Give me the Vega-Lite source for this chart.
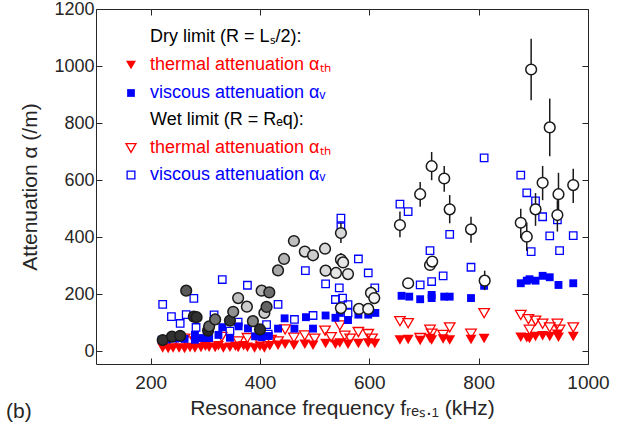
{
  "$schema": "https://vega.github.io/schema/vega-lite/v6.json",
  "width": 492,
  "height": 355,
  "autosize": {"type": "none"},
  "padding": {"left": 96, "top": 9, "right": 38, "bottom": 76},
  "background": "white",
  "config": {
    "font": "Liberation Sans",
    "view": {"stroke": null},
    "axis": {
      "grid": false,
      "domainColor": "#262626",
      "tickColor": "#262626",
      "labelColor": "#262626",
      "titleColor": "#262626",
      "labelFont": "Liberation Sans",
      "titleFont": "Liberation Sans",
      "labelFontSize": 19,
      "titleFontSize": 21,
      "titleFontWeight": "normal",
      "tickSize": -6,
      "domainWidth": 1,
      "tickWidth": 1,
      "labelFlush": false,
      "format": "d"
    },
    "legend": {
      "labelFont": "Liberation Sans",
      "titleFont": "Liberation Sans",
      "labelFontSize": 18,
      "labelLimit": 0,
      "padding": 0,
      "labelOffset": 10,
      "symbolSize": 100,
      "symbolStrokeWidth": 1.3,
      "orient": "none",
      "legendX": 26
    }
  },
  "title": {
    "text": "(b)",
    "orient": "bottom",
    "anchor": "start",
    "frame": "bounds",
    "fontSize": 21,
    "fontWeight": "normal",
    "font": "Liberation Sans",
    "color": "#262626",
    "offset": -17,
    "dx": -14
  },
  "datasets": {
    "meas": [
      {"f": 222, "a": 40, "g": 0.1},
      {"f": 239, "a": 52, "g": 0.1},
      {"f": 254, "a": 55, "g": 0.1},
      {"f": 265, "a": 213, "g": 0.3},
      {"f": 279, "a": 122, "g": 0.1},
      {"f": 284, "a": 120, "g": 0.1},
      {"f": 305, "a": 73, "g": 0.05},
      {"f": 307, "a": 88, "g": 0.35},
      {"f": 318, "a": 112, "g": 0.4},
      {"f": 345, "a": 108, "g": 0.15},
      {"f": 351, "a": 139, "g": 0.55},
      {"f": 360, "a": 187, "g": 0.75},
      {"f": 376, "a": 157, "g": 0.8},
      {"f": 387, "a": 106, "g": 0.5},
      {"f": 400, "a": 77, "g": 0.1},
      {"f": 403, "a": 213, "g": 0.7},
      {"f": 408, "a": 135, "g": 0.8},
      {"f": 412, "a": 156, "g": 0.35},
      {"f": 417, "a": 207, "g": 0.4},
      {"f": 433, "a": 284, "g": 0.65},
      {"f": 444, "a": 324, "g": 0.7},
      {"f": 462, "a": 387, "g": 0.75},
      {"f": 482, "a": 350, "g": 0.85},
      {"f": 497, "a": 337, "g": 0.8},
      {"f": 519, "a": 360, "g": 0.85},
      {"f": 520, "a": 283, "g": 0.85},
      {"f": 539, "a": 275, "g": 0.9},
      {"f": 548, "a": 322, "g": 0.9, "lo": 300, "hi": 345},
      {"f": 552, "a": 312, "g": 0.9},
      {"f": 561, "a": 271, "g": 0.9},
      {"f": 548, "a": 415, "g": 0.85, "lo": 380, "hi": 450},
      {"f": 548, "a": 152, "g": 0.95},
      {"f": 581, "a": 149, "g": 0.95},
      {"f": 598, "a": 149, "g": 0.95},
      {"f": 603, "a": 205, "g": 0.95, "lo": 185, "hi": 228},
      {"f": 609, "a": 187, "g": 0.95, "lo": 170, "hi": 205},
      {"f": 656, "a": 443, "g": 1, "lo": 400, "hi": 490},
      {"f": 671, "a": 239, "g": 1},
      {"f": 693, "a": 551, "g": 1, "lo": 507, "hi": 594},
      {"f": 711, "a": 303, "g": 1},
      {"f": 715, "a": 315, "g": 1},
      {"f": 714, "a": 649, "g": 1, "lo": 600, "hi": 699},
      {"f": 737, "a": 606, "g": 1, "lo": 560, "hi": 650},
      {"f": 747, "a": 498, "g": 1, "lo": 449, "hi": 548},
      {"f": 786, "a": 428, "g": 1, "lo": 381, "hi": 472},
      {"f": 811, "a": 248, "g": 1, "lo": 215, "hi": 283},
      {"f": 877, "a": 451, "g": 1, "lo": 397, "hi": 500},
      {"f": 888, "a": 402, "g": 1, "lo": 352, "hi": 452},
      {"f": 896, "a": 988, "g": 1, "lo": 880, "hi": 1096},
      {"f": 904, "a": 498, "g": 1, "lo": 440, "hi": 555},
      {"f": 917, "a": 591, "g": 1, "lo": 530, "hi": 650},
      {"f": 930, "a": 785, "g": 1, "lo": 684, "hi": 886},
      {"f": 944, "a": 478, "g": 1, "lo": 420, "hi": 530},
      {"f": 946, "a": 551, "g": 1, "lo": 490, "hi": 626},
      {"f": 973, "a": 583, "g": 1, "lo": 520, "hi": 640}
    ],
    "dryTh": [
      {"f": 222, "a": 12}, {"f": 232, "a": 10}, {"f": 241, "a": 12}, {"f": 252, "a": 12},
      {"f": 262, "a": 10}, {"f": 272, "a": 14}, {"f": 281, "a": 12}, {"f": 292, "a": 14},
      {"f": 300, "a": 18}, {"f": 307, "a": 15}, {"f": 318, "a": 14}, {"f": 324, "a": 20},
      {"f": 333, "a": 12}, {"f": 345, "a": 15}, {"f": 355, "a": 18}, {"f": 360, "a": 14},
      {"f": 370, "a": 20}, {"f": 377, "a": 15}, {"f": 390, "a": 12}, {"f": 400, "a": 18},
      {"f": 408, "a": 12}, {"f": 418, "a": 20}, {"f": 433, "a": 22}, {"f": 446, "a": 25},
      {"f": 462, "a": 22}, {"f": 482, "a": 25}, {"f": 497, "a": 22}, {"f": 520, "a": 28},
      {"f": 538, "a": 25}, {"f": 546, "a": 30}, {"f": 561, "a": 25}, {"f": 580, "a": 28},
      {"f": 598, "a": 30}, {"f": 610, "a": 28}, {"f": 656, "a": 40}, {"f": 671, "a": 42},
      {"f": 693, "a": 38}, {"f": 711, "a": 45}, {"f": 714, "a": 40}, {"f": 735, "a": 44},
      {"f": 747, "a": 40}, {"f": 786, "a": 42}, {"f": 810, "a": 45}, {"f": 877, "a": 50},
      {"f": 888, "a": 48}, {"f": 893, "a": 45}, {"f": 904, "a": 52}, {"f": 917, "a": 55},
      {"f": 930, "a": 52}, {"f": 944, "a": 60}, {"f": 946, "a": 50}, {"f": 973, "a": 52}
    ],
    "dryVi": [
      {"f": 220, "a": 41}, {"f": 230, "a": 42}, {"f": 238, "a": 47}, {"f": 245, "a": 45},
      {"f": 252, "a": 47}, {"f": 262, "a": 44}, {"f": 281, "a": 58}, {"f": 281, "a": 41},
      {"f": 295, "a": 47}, {"f": 307, "a": 47}, {"f": 307, "a": 82}, {"f": 324, "a": 58},
      {"f": 331, "a": 85}, {"f": 345, "a": 48}, {"f": 361, "a": 88}, {"f": 378, "a": 81},
      {"f": 391, "a": 53}, {"f": 399, "a": 71}, {"f": 403, "a": 50}, {"f": 416, "a": 54},
      {"f": 433, "a": 80}, {"f": 445, "a": 116}, {"f": 463, "a": 80}, {"f": 484, "a": 120},
      {"f": 497, "a": 80}, {"f": 520, "a": 126}, {"f": 538, "a": 118}, {"f": 546, "a": 135},
      {"f": 561, "a": 110}, {"f": 580, "a": 129}, {"f": 598, "a": 129}, {"f": 611, "a": 135},
      {"f": 659, "a": 195}, {"f": 673, "a": 192}, {"f": 693, "a": 183}, {"f": 714, "a": 198},
      {"f": 714, "a": 187}, {"f": 737, "a": 192}, {"f": 747, "a": 192}, {"f": 786, "a": 187},
      {"f": 810, "a": 230}, {"f": 877, "a": 239}, {"f": 888, "a": 248}, {"f": 893, "a": 253},
      {"f": 904, "a": 248}, {"f": 917, "a": 265}, {"f": 930, "a": 260}, {"f": 946, "a": 233},
      {"f": 973, "a": 239}
    ],
    "wetTh": [
      {"f": 240, "a": 25}, {"f": 262, "a": 45}, {"f": 281, "a": 35}, {"f": 300, "a": 40},
      {"f": 330, "a": 51}, {"f": 360, "a": 35}, {"f": 377, "a": 47}, {"f": 400, "a": 30},
      {"f": 420, "a": 40}, {"f": 433, "a": 35}, {"f": 446, "a": 77}, {"f": 462, "a": 48},
      {"f": 482, "a": 56}, {"f": 500, "a": 45}, {"f": 519, "a": 73}, {"f": 530, "a": 50},
      {"f": 546, "a": 91}, {"f": 555, "a": 55}, {"f": 565, "a": 45}, {"f": 580, "a": 68},
      {"f": 598, "a": 61}, {"f": 605, "a": 45}, {"f": 656, "a": 106}, {"f": 671, "a": 99},
      {"f": 693, "a": 47}, {"f": 711, "a": 76}, {"f": 714, "a": 62}, {"f": 735, "a": 58},
      {"f": 747, "a": 84}, {"f": 786, "a": 62}, {"f": 810, "a": 134}, {"f": 877, "a": 128},
      {"f": 891, "a": 113}, {"f": 893, "a": 76}, {"f": 904, "a": 108}, {"f": 917, "a": 97},
      {"f": 930, "a": 84}, {"f": 944, "a": 97}, {"f": 948, "a": 76}, {"f": 973, "a": 84}
    ],
    "wetVi": [
      {"f": 222, "a": 165}, {"f": 238, "a": 122}, {"f": 254, "a": 98}, {"f": 265, "a": 129},
      {"f": 279, "a": 186}, {"f": 283, "a": 84}, {"f": 316, "a": 128}, {"f": 331, "a": 252},
      {"f": 345, "a": 71}, {"f": 360, "a": 103}, {"f": 377, "a": 232}, {"f": 412, "a": 94},
      {"f": 415, "a": 61}, {"f": 433, "a": 165}, {"f": 463, "a": 112}, {"f": 483, "a": 283},
      {"f": 497, "a": 126}, {"f": 520, "a": 237}, {"f": 538, "a": 182}, {"f": 545, "a": 223},
      {"f": 551, "a": 187}, {"f": 548, "a": 467}, {"f": 548, "a": 437}, {"f": 561, "a": 164},
      {"f": 561, "a": 135}, {"f": 580, "a": 324}, {"f": 598, "a": 275}, {"f": 610, "a": 223},
      {"f": 656, "a": 516}, {"f": 671, "a": 490}, {"f": 693, "a": 233}, {"f": 711, "a": 353},
      {"f": 714, "a": 245}, {"f": 735, "a": 265}, {"f": 747, "a": 410}, {"f": 786, "a": 295},
      {"f": 810, "a": 678}, {"f": 877, "a": 618}, {"f": 888, "a": 556}, {"f": 896, "a": 350},
      {"f": 904, "a": 528}, {"f": 917, "a": 472}, {"f": 930, "a": 405}, {"f": 944, "a": 461},
      {"f": 948, "a": 353}, {"f": 973, "a": 406}
    ]
  },
  "layer": [
    {
      "data": {"name": "wetTh"},
      "mark": {"type": "point", "filled": false, "strokeWidth": 1.3, "size": 110, "opacity": 1},
      "encoding": {
        "x": {"field": "f", "type": "quantitative", "scale": {"domain": [100, 1000], "nice": false}, "axis": null},
        "y": {"field": "a", "type": "quantitative", "scale": {"domain": [-44, 1200], "nice": false, "zero": false}, "axis": null},
        "color": {"datum": "thermal attenuation αₜₕ", "type": "nominal", "scale": {"range": ["#ff0000"]},
          "legend": {"title": null, "legendY": 130, "labelColor": "#ff0000", "symbolType": "triangle-down"}},
        "shape": {"datum": "Wet limit (R = Rₑq):", "type": "nominal", "scale": {"range": ["triangle-down"]},
          "legend": {"title": null, "legendY": 102, "labelColor": "black", "symbolOpacity": 0}}
      }
    },
    {
      "data": {"name": "wetVi"},
      "mark": {"type": "point", "shape": "square", "filled": false, "strokeWidth": 1.3, "size": 56, "opacity": 1},
      "encoding": {
        "x": {"field": "f", "type": "quantitative", "axis": null},
        "y": {"field": "a", "type": "quantitative", "axis": null},
        "color": {"datum": "viscous attenuation αᵥ", "type": "nominal", "scale": {"range": ["#0000ff"]},
          "legend": {"title": null, "legendY": 157, "labelColor": "#0000ff", "symbolType": "square", "symbolSize": 60}}
      }
    },
    {
      "data": {"name": "dryTh"},
      "mark": {"type": "point", "filled": true, "size": 120, "opacity": 1},
      "encoding": {
        "x": {"field": "f", "type": "quantitative", "axis": null},
        "y": {"field": "a", "type": "quantitative", "axis": null},
        "color": {"datum": "thermal attenuation αₜₕ", "type": "nominal", "scale": {"range": ["#ff0000"]},
          "legend": {"title": null, "legendY": 47, "labelColor": "#ff0000", "symbolType": "triangle-down"}},
        "shape": {"datum": "Dry limit (R = Lₛ/2):", "type": "nominal", "scale": {"range": ["triangle-down"]},
          "legend": {"title": null, "legendY": 19, "labelColor": "black", "symbolOpacity": 0}}
      }
    },
    {
      "data": {"name": "dryVi"},
      "mark": {"type": "point", "shape": "square", "filled": true, "size": 62, "opacity": 1},
      "encoding": {
        "x": {"field": "f", "type": "quantitative", "axis": null},
        "y": {"field": "a", "type": "quantitative", "axis": null},
        "color": {"datum": "viscous attenuation αᵥ", "type": "nominal", "scale": {"range": ["#0000ff"]},
          "legend": {"title": null, "legendY": 75, "labelColor": "#0000ff", "symbolType": "square", "symbolSize": 60}}
      }
    },
    {
      "data": {"name": "meas"},
      "transform": [{"filter": "isValid(datum.lo)"}],
      "mark": {"type": "rule", "color": "#1a1a1a", "strokeWidth": 1.5},
      "encoding": {
        "x": {"field": "f", "type": "quantitative", "axis": {"orient": "top", "labels": false, "title": null, "values": [200, 400, 600, 800, 1000]}},
        "y": {"field": "lo", "type": "quantitative", "axis": {"orient": "right", "labels": false, "title": null, "values": [0, 200, 400, 600, 800, 1000, 1200]}},
        "y2": {"field": "hi"}
      }
    },
    {
      "data": {"name": "meas"},
      "mark": {"type": "point", "shape": "circle", "filled": true, "size": 115, "stroke": "#1a1a1a", "strokeWidth": 1.5, "opacity": 1},
      "encoding": {
        "x": {"field": "f", "type": "quantitative", "axis": {"orient": "bottom", "title": "Resonance frequency fᵣₑₛ.₁ (kHz)", "values": [200, 400, 600, 800, 1000], "labelPadding": 15, "titlePadding": 5}},
        "y": {"field": "a", "type": "quantitative", "axis": {"orient": "left", "title": "Attenuation α  (/m)", "values": [0, 200, 400, 600, 800, 1000, 1200], "labelFontSize": 18, "labelPadding": 8, "titlePadding": 13}},
        "fill": {"field": "g", "type": "quantitative", "scale": {"domain": [0, 1], "range": ["#1e1e1e", "#ffffff"]}, "legend": null}
      }
    }
  ],
  "resolve": {
    "scale": {"color": "independent", "shape": "independent"},
    "axis": {"x": "independent", "y": "independent"}
  }
}
